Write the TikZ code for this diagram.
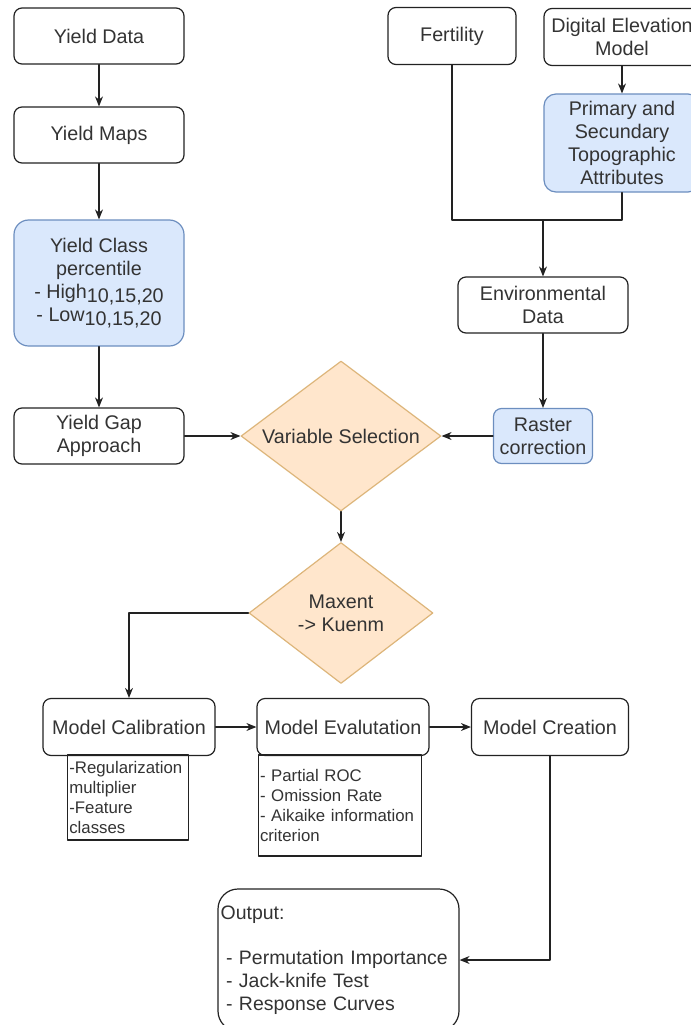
\documentclass[tikz,border=0pt]{standalone}
\usepackage{fontspec}
\setmainfont{Liberation Sans}
\usetikzlibrary{shapes.geometric,arrows.meta}
\definecolor{blfill}{HTML}{DAE8FC}
\definecolor{bldraw}{HTML}{6C8EBF}
\definecolor{orfill}{HTML}{FFE6CC}
\definecolor{ordraw}{HTML}{DDB57A}
\definecolor{txt}{HTML}{333333}
\definecolor{lncol}{HTML}{222222}
\newcommand\lowidx[1]{\raisebox{-3.5pt}{#1}}
\begin{document}
\begin{tikzpicture}[line join = round, line cap = round,>={Stealth[length=7.5pt,width=6pt]},x=0.75pt,y=-0.75pt,line width=0.9pt,color=lncol,
	every node/.style={text=txt,font=\fontsize{14.8}{17.25}\selectfont},
	box/.style={draw,rounded corners=6pt,align=center,inner sep=2pt},
	bluebox/.style={box,fill=blfill,draw=bldraw},
	choice/.style={diamond,draw=ordraw,fill=orfill,align=center,inner sep=0pt},
	note/.style={draw,align=left,inner sep=1.25pt,font=\fontsize{12.6}{14.8}\selectfont}]
	\useasboundingbox (0,0) rectangle (691,1025);
	\node[box,minimum width=127.5pt,minimum height=42pt] (ydata) at (99,36) {Yield Data};
	\node[box,minimum width=127.5pt,minimum height=42pt] (ymaps) at (99,135) {Yield Maps};
	\node[bluebox,rounded corners=11pt,minimum width=127.5pt,minimum height=94.5pt] (yclass) at (99,283) {Yield Class\\percentile\\- High\lowidx{10,15,20}\\- Low\lowidx{10,15,20}};
	\node[box,minimum width=127.5pt,minimum height=42pt] (ygap) at (99,436) {Yield Gap\\Approach};
	\node[box,minimum width=96pt,minimum height=42.75pt] (fert) at (452,36) {Fertility};
	\node[box,minimum width=117pt,minimum height=42.75pt] (dem) at (622,37) {Digital Elevation\\Model};
	\node[bluebox,rounded corners=9pt,minimum width=117pt,minimum height=73.5pt] (topo) at (622,143) {Primary and\\Secundary\\Topographic\\Attributes};
	\node[box,minimum width=127.5pt,minimum height=42pt] (env) at (543,305) {Environmental\\Data};
	\node[bluebox,minimum width=74.25pt,minimum height=41.25pt] (raster) at (543,436) {Raster\\correction};
	\node[choice,aspect=1.333,minimum width=150pt,minimum height=112.5pt] (varsel) at (341,436) {Variable Selection};
	\node[choice,aspect=1.3,minimum width=138pt,minimum height=105.75pt] (maxent) at (341,613) {Maxent\\-> Kuenm};
	\node[box,minimum width=129pt,minimum height=42.75pt] (calib) at (129,727) {Model Calibration};
	\node[box,minimum width=129pt,minimum height=42.75pt] (evalu) at (343,727) {Model Evalutation};
	\node[box,minimum width=117.75pt,minimum height=42.75pt] (create) at (550,727) {Model Creation};
	\node[note,minimum width=90pt,minimum height=63.75pt,text width=88pt] (calibnote) at (128,797.5) {-Regularization\\multiplier\\-Feature\\classes};
	\node[note,minimum width=121.5pt,minimum height=75.75pt,text width=120pt] (evalnote) at (340,805.5) {- Partial ROC\\- Omission Rate\\- Aikaike information\\criterion};
	\node[box,rounded corners=15pt,minimum width=180.75pt,minimum height=106.5pt,align=left,text width=176.75pt,font=\fontsize{14.6}{17}\selectfont] (output) at (338.5,960) {Output:\\[17pt]\hspace*{4pt}- Permutation Importance\\\hspace*{4pt}- Jack-knife Test\\\hspace*{4pt}- Response Curves};
	\coordinate (merge) at (543,220);
	\foreach \a/\b in {ydata/ymaps,ymaps/yclass,yclass/ygap,dem/topo,env/raster,varsel/maxent}\draw[->](\a.south)--(\b.north);
	\foreach \a/\b in {ygap/varsel,calib/evalu,evalu/create}\draw[->](\a.east)--(\b.west);
	\draw[->] (raster.west)--(varsel.east);
	\draw (fert.south) |- (merge) -| (topo.south);
	\draw[->] (merge)--(env.north);
	\draw[->] (maxent.west) -| (calib.north);
	\draw[->] (create.south) |- (output.east);
\end{tikzpicture}
\end{document}
